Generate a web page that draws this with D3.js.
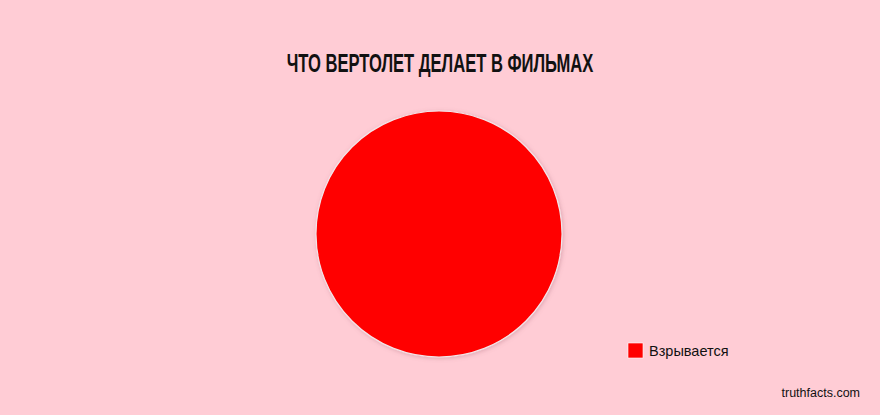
<!DOCTYPE html>
<html>
<head>
<meta charset="utf-8">
<script src="https://cdn.jsdelivr.net/npm/d3@7"></script>
<style>
  html, body { margin: 0; padding: 0; background: #ffccd5; }
  svg { display: block; }
</style>
</head>
<body>
<div id="chart"></div>
<script>
// chart data
var categories = ["Взрывается"];
var values = [100];
var colors = ["#ff0000"];
var title = "ЧТО ВЕРТОЛЕТ ДЕЛАЕТ В ФИЛЬМАХ";
var credit = "truthfacts.com";

var width = 880, height = 415;
var cx = 439, cy = 234, radius = 123;

var svg = d3.select("#chart").append("svg")
	.attr("width", width)
	.attr("height", height);

svg.append("rect")
	.attr("width", width)
	.attr("height", height)
	.attr("fill", "#ffccd5");

var defs = svg.append("defs");
var shadow = defs.append("filter").attr("id", "shadow")
	.attr("x", "-20%").attr("y", "-20%").attr("width", "140%").attr("height", "140%");
shadow.append("feDropShadow")
	.attr("dx", 1).attr("dy", 1).attr("stdDeviation", 2)
	.attr("flood-color", "#a06070").attr("flood-opacity", 0.35);

// title: condensed look, squeezed to the width seen in the reference
var titleG = svg.append("g").attr("transform", "translate(" + (width / 2) + ",72)");
var titleText = titleG.append("text")
	.attr("text-anchor", "middle")
	.style("font-family", "'Liberation Sans', Arial, sans-serif")
	.style("font-weight", "bold")
	.style("font-size", "25px")
	.style("fill", "#111")
	.text(title);
var tw = titleText.node().getComputedTextLength();
if (tw > 307) titleText.attr("transform", "scale(" + (307 / tw) + ",1)");

var color = d3.scaleOrdinal().domain(categories).range(colors);
var pie = d3.pie().sort(null).value(function(d) { return d.value; });
var arc = d3.arc().innerRadius(0).outerRadius(radius);

var data = categories.map(function(c, i) { return {name: c, value: values[i]}; });

var g = svg.append("g")
	.attr("transform", "translate(" + cx + "," + cy + ")")
	.attr("filter", "url(#shadow)");

g.selectAll("path")
	.data(pie(data))
	.enter().append("path")
	.attr("d", arc)
	.attr("fill", function(d) { return color(d.data.name); })
	.attr("stroke", "#f4e4e8")
	.attr("stroke-width", 1.2);

var legend = svg.append("g")
	.attr("transform", "translate(628,343)");

var item = legend.selectAll("g")
	.data(categories)
	.enter().append("g")
	.attr("transform", function(d, i) { return "translate(0," + (i * 22) + ")"; });

item.append("rect")
	.attr("width", 15)
	.attr("height", 15)
	.attr("fill", function(d) { return color(d); })
	.attr("stroke", "#ffffff")
	.attr("stroke-width", 0.6);

item.append("text")
	.attr("x", 21)
	.attr("y", 13)
	.style("font-family", "'Liberation Sans', Arial, sans-serif")
	.style("font-size", "14.5px")
	.style("fill", "#111")
	.text(function(d) { return d; });

svg.append("text")
	.attr("x", 860)
	.attr("y", 397)
	.attr("text-anchor", "end")
	.style("font-family", "'Liberation Sans', Arial, sans-serif")
	.style("font-size", "12.5px")
	.style("fill", "#111")
	.text(credit);
</script>
</body>
</html>
